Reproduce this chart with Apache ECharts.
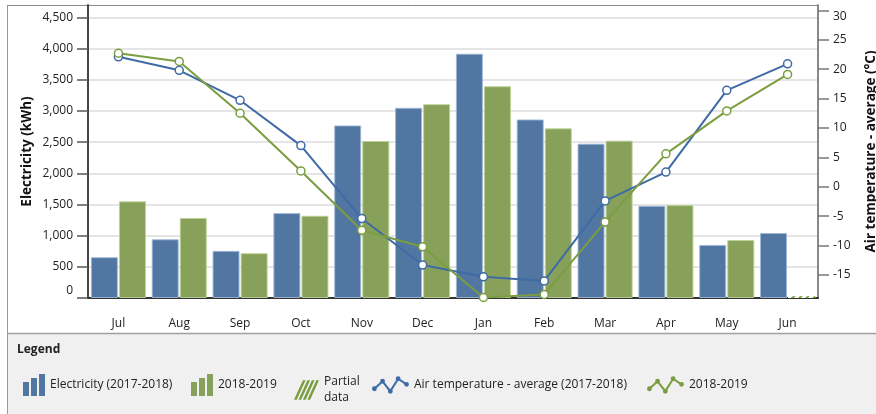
<!DOCTYPE html>
<html>
<head>
<meta charset="utf-8">
<script src="https://cdn.jsdelivr.net/npm/echarts@6/dist/echarts.min.js"></script>
<style>
  html, body { margin: 0; padding: 0; background: #fff; }
  #chart { width: 876px; height: 414px; }
</style>
</head>
<body>
<div id="chart"></div>
<script>
// Monthly electricity use (kWh) and average air temperature (°C), July to June
const months = ['Jul', 'Aug', 'Sep', 'Oct', 'Nov', 'Dec', 'Jan', 'Feb', 'Mar', 'Apr', 'May', 'Jun'];
const elec2017 = [655, 942, 756, 1362, 2768, 3051, 3919, 2864, 2476, 1479, 851, 1043];
const elec2018 = [1550, 1283, 719, 1319, 2518, 3109, 3397, 2721, 2524, 1490, 931, 30];
const temp2017 = [22.1, 19.8, 14.7, 7.0, -5.4, -13.3, -15.3, -16.0, -2.4, 2.5, 16.4, 20.9];
const temp2018 = [22.7, 21.3, 12.5, 2.7, -7.4, -10.2, -18.8, -18.3, -6.0, 5.6, 12.9, 19.1];
const partialMonths = ['Jun'];
const elecTicks = [0, 500, 1000, 1500, 2000, 2500, 3000, 3500, 4000, 4500];
const tempTicks = [-15, -10, -5, 0, 5, 10, 15, 20, 25, 30];

const BLUE = '#5276a2';
const GREEN = '#88a15a';
const BLUE_LINE = '#3e6aa6';
const GREEN_LINE = '#7a9d3f';
const FONT = 'Open Sans';

// Legend icon shapes
const barIcon = 'path://M0,8h6v14h-6z M8,4h6v18h-6z M16,0h6v22h-6z';
function hatchIcon() {
  let p = '';
  [0, 5, 10, 15].forEach(x => {
    p += 'M' + x + ',22 L' + (x + 3) + ',22 L' + (x + 13) + ',0 L' + (x + 10) + ',0 Z ';
  });
  return 'path://' + p;
}
function zigzagIcon() {
  const pts = [[1, 12], [9.7, 4], [18, 14.7], [26.3, 1.3], [35.3, 7.3]];
  const w = 1.1, r = 2.6;
  let p = '';
  for (let i = 0; i < pts.length - 1; i++) {
    const a = pts[i], b = pts[i + 1];
    const dx = b[0] - a[0], dy = b[1] - a[1];
    const len = Math.hypot(dx, dy);
    const nx = -dy / len * w, ny = dx / len * w;
    p += 'M' + (a[0] + nx) + ',' + (a[1] + ny) + ' L' + (b[0] + nx) + ',' + (b[1] + ny) +
         ' L' + (b[0] - nx) + ',' + (b[1] - ny) + ' L' + (a[0] - nx) + ',' + (a[1] - ny) + ' Z ';
  }
  pts.forEach(c => {
    p += 'M' + (c[0] - r) + ',' + c[1] + ' a' + r + ',' + r + ' 0 1 0 ' + (2 * r) + ',0 a' + r + ',' + r + ' 0 1 0 ' + (-2 * r) + ',0 Z ';
  });
  return 'path://' + p;
}

const elec2018Data = elec2018.map((v, i) => {
  if (partialMonths.indexOf(months[i]) >= 0) {
    return {
      value: v,
      itemStyle: {
        color: '#ffffff',
        borderWidth: 0,
        decal: {
          symbol: 'rect', symbolSize: 1,
          dashArrayX: [[1, 0]], dashArrayY: [2, 3],
          rotation: -Math.PI / 4,
          color: GREEN_LINE, backgroundColor: '#ffffff'
        }
      }
    };
  }
  return v;
});

const legendText = { color: '#222', fontFamily: FONT, fontSize: 12 };
function legendAt(left, name, icon, w, h, color, extra) {
  return Object.assign({
    left: left, top: 385 - h / 2, padding: 0, itemGap: 0,
    itemWidth: w, itemHeight: h, selectedMode: false,
    icon: icon,
    itemStyle: { color: color, borderWidth: 0 },
    textStyle: legendText,
    data: [name]
  }, extra || {});
}

const chart = echarts.init(document.getElementById('chart'));
chart.setOption({
  animation: false,
  textStyle: { fontFamily: FONT },
  grid: { left: 88, right: 58, top: 5, bottom: 116, containLabel: false, outerBoundsMode: 'none' },
  graphic: [
    { type: 'rect', silent: true, z: -10, shape: { x: 8, y: 334, width: 868, height: 80 }, style: { fill: '#f0f0f0' } },
    { type: 'line', silent: true, shape: { x1: 7.5, y1: 5, x2: 7.5, y2: 414 }, style: { stroke: '#9a9a9a', lineWidth: 1 } },
    { type: 'line', silent: true, shape: { x1: 7.5, y1: 5.5, x2: 818, y2: 5.5 }, style: { stroke: '#8a8a8a', lineWidth: 1 } },
    { type: 'line', silent: true, shape: { x1: 7.5, y1: 333.5, x2: 876, y2: 333.5 }, style: { stroke: '#a0a0a0', lineWidth: 1.5 } },
    { type: 'text', silent: true, left: 17, top: 344, style: { text: 'Legend', fill: '#222', font: 'bold 12px "Open Sans"' } }
  ],
  legend: [
    legendAt(23, 'Electricity (2017-2018)', barIcon, 22, 22, BLUE),
    legendAt(191, '2018-2019', barIcon, 22, 22, GREEN),
    legendAt(294, 'Partial data', hatchIcon(), 25, 22, GREEN_LINE, {
      formatter: () => 'Partial\ndata',
      textStyle: Object.assign({ lineHeight: 16 }, legendText)
    }),
    legendAt(372, 'Air temperature - average (2017-2018)', zigzagIcon(), 37, 17.4, BLUE_LINE),
    legendAt(647, '2018-2019 ', zigzagIcon(), 37, 17.4, GREEN_LINE, { formatter: n => n.trim() })
  ],
  xAxis: {
    type: 'category',
    data: months,
    axisLine: { lineStyle: { color: '#333', width: 2 } },
    axisTick: { alignWithLabel: true, length: 11, lineStyle: { color: '#555', width: 1.5 } },
    axisLabel: { color: '#222', fontSize: 12, margin: 20 }
  },
  yAxis: [
    {
      type: 'value', min: 0, max: 4700,
      name: 'Electricity (kWh)', nameLocation: 'middle', nameGap: 54, nameMoveOverlap: false,
      nameTextStyle: { color: '#111', fontWeight: 'bold', fontSize: 13.5, fontFamily: FONT },
      axisLine: { show: true, lineStyle: { color: '#444', width: 2 } },
      axisTick: { show: true, length: 11, customValues: elecTicks, lineStyle: { color: '#555', width: 1.5 } },
      axisLabel: {
        customValues: elecTicks, margin: 15, color: '#222', fontSize: 12,
        formatter: v => v === 0 ? '{z|0}' : v.toLocaleString('en-US'),
        rich: { z: { padding: [0, 0, 14, 0], fontSize: 12, color: '#222' } }
      },
      splitLine: { show: true, lineStyle: { color: '#dcdcdc', width: 1.5 } }
    },
    {
      type: 'value', min: -18.9, max: 30.9, position: 'right',
      name: 'Air temperature - average (°C)', nameLocation: 'middle', nameGap: 46, nameMoveOverlap: false,
      nameTextStyle: { color: '#111', fontWeight: 'bold', fontSize: 13.5, fontFamily: FONT },
      axisLine: { show: true, lineStyle: { color: '#888', width: 2 } },
      axisTick: { show: true, length: 11, customValues: tempTicks, lineStyle: { color: '#777', width: 1.5 } },
      axisLabel: {
        customValues: tempTicks, margin: 15, color: '#222', fontSize: 12,
        formatter: v => v === 30 ? '{t|30}' : String(v),
        rich: { t: { padding: [12, 0, 0, 0], fontSize: 12, color: '#222' } }
      },
      splitLine: { show: false }
    }
  ],
  series: [
    {
      name: 'Electricity (2017-2018)', type: 'bar', data: elec2017,
      barWidth: 27, barGap: '4%',
      itemStyle: { color: BLUE, borderColor: 'rgba(160,185,215,0.9)', borderWidth: 1 }
    },
    {
      name: '2018-2019', type: 'bar', data: elec2018Data,
      barWidth: 27, barGap: '4%',
      itemStyle: { color: GREEN, borderColor: 'rgba(190,210,150,0.9)', borderWidth: 1 }
    },
    { name: 'Partial data', type: 'line', data: [], itemStyle: { color: GREEN_LINE } },
    {
      name: 'Air temperature - average (2017-2018)', type: 'line', yAxisIndex: 1, z: 5,
      data: temp2017, symbol: 'circle', symbolSize: 8,
      lineStyle: { color: BLUE_LINE, width: 2 },
      itemStyle: { color: '#fff', borderColor: BLUE_LINE, borderWidth: 1.5 }
    },
    {
      name: '2018-2019 ', type: 'line', yAxisIndex: 1, z: 5,
      data: temp2018, symbol: 'circle', symbolSize: 8,
      lineStyle: { color: GREEN_LINE, width: 2 },
      itemStyle: { color: '#fff', borderColor: GREEN_LINE, borderWidth: 1.5 }
    }
  ]
});
</script>
</body>
</html>
